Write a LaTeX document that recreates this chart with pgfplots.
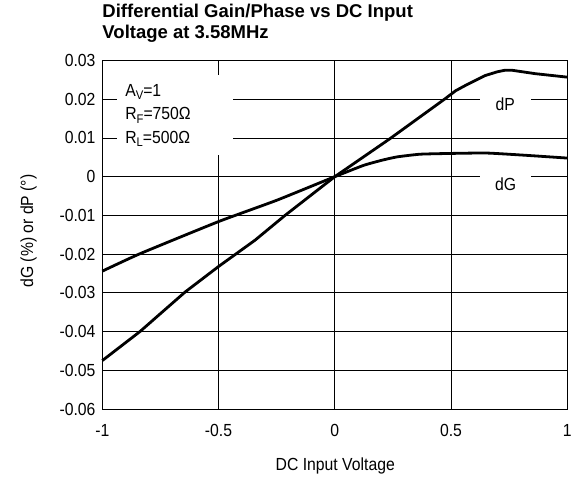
\documentclass[border=0pt]{standalone}
\usepackage{pgfplots}
\pgfplotsset{compat=1.18}
\usepackage{fontspec}
\setmainfont{Liberation Sans}
\newfontfamily\nf[FakeStretch=0.9]{Liberation Sans}
\newcommand\lab{\nf\fontsize{17.5bp}{20bp}\selectfont}
\newcommand\sub[1]{\raisebox{-3.5bp}{\fontsize{12.5bp}{14bp}\selectfont #1}}
\begin{document}
\begin{tikzpicture}
\path[use as bounding box] (0,0) rectangle (571bp,481bp);
\begin{axis}[
  at={(102.3bp,72bp)}, anchor=south west,
  scale only axis, width=465bp, height=348.5bp,
  xmin=-1, xmax=1, ymin=-0.06, ymax=0.03,
  xtick={-1,-0.5,0,0.5,1},
  xticklabels={-1,-0.5,0,0.5,1},
  ytick={-0.06,-0.05,-0.04,-0.03,-0.02,-0.01,0,0.01,0.02,0.03},
  yticklabels={-0.06,-0.05,-0.04,-0.03,-0.02,-0.01,0,0.01,0.02,0.03},
  scaled ticks=false,
  /pgf/number format/assume math mode=true,
  major tick length=0pt,
  grid=major,
  major grid style={black, line width=0.8bp},
  axis line style={black, line width=1bp},
  tick label style={font=\lab},
  xticklabel style={anchor=base, yshift=-27.7bp, inner sep=0pt},
  yticklabel style={anchor=east, inner sep=0pt, xshift=-6.6bp},
  xlabel={DC Input Voltage},
  ylabel={dG (\%) or dP (\textdegree)},
  label style={font=\lab},
  xlabel style={at={(axis description cs:0.501,-0.1779)}, anchor=base},
  ylabel style={at={(axis description cs:-0.149,0.5108)}, anchor=base},
  title={Differential Gain/Phase vs DC Input\\Voltage at 3.58MHz},
  title style={at={(axis description cs:0,1)}, anchor=south west, align=left,
    inner sep=0pt, yshift=12.3bp, font=\bfseries\fontsize{18.5bp}{21bp}\selectfont},
  clip=false,
]
% white boxes over the grid
\fill[white] (axis cs:-0.937,0.0056) rectangle (axis cs:-0.439,0.0263);
\fill[white] (axis cs:0.625,0.0152) rectangle (axis cs:0.844,0.0224);
\fill[white] (axis cs:0.625,-0.0055) rectangle (axis cs:0.844,0.0022);

\addplot[black, line width=2.8bp, line join=round] coordinates {
(-1,-0.0475) (-0.838,-0.0400) (-0.644,-0.0298) (-0.5,-0.0232)
(-0.343,-0.0164) (-0.214,-0.0100) (0,0) (0.237,0.0098) (0.474,0.0201)
(0.52,0.0222) (0.56,0.0235) (0.646,0.0261) (0.70,0.0271) (0.733,0.0275)
(0.76,0.0275) (0.862,0.0266) (1,0.0257)};
\addplot[black, line width=2.8bp, line join=round, smooth, tension=0.3] coordinates {
(-1,-0.0244) (-0.838,-0.0199) (-0.5,-0.0116) (-0.25,-0.0061) (0,0)
(0.123,0.0029) (0.2,0.0042) (0.267,0.0051) (0.367,0.0058) (0.5,0.0060)
(0.654,0.0061) (0.826,0.0055) (1,0.0048)};

\node[anchor=base west, inner sep=0pt, font=\lab] at (axis cs:-0.902,0.02075) {A\sub{V}=1};
\node[anchor=base west, inner sep=0pt, font=\lab] at (axis cs:-0.902,0.01475) {R\sub{F}=750Ω};
\node[anchor=base west, inner sep=0pt, font=\lab] at (axis cs:-0.902,0.00869) {R\sub{L}=500Ω};
\node[anchor=base, inner sep=0pt, font=\lab] at (axis cs:0.733,0.01704) {dP};
\node[anchor=base, inner sep=0pt, font=\lab] at (axis cs:0.735,-0.00369) {dG};
\end{axis}
\end{tikzpicture}
\end{document}
